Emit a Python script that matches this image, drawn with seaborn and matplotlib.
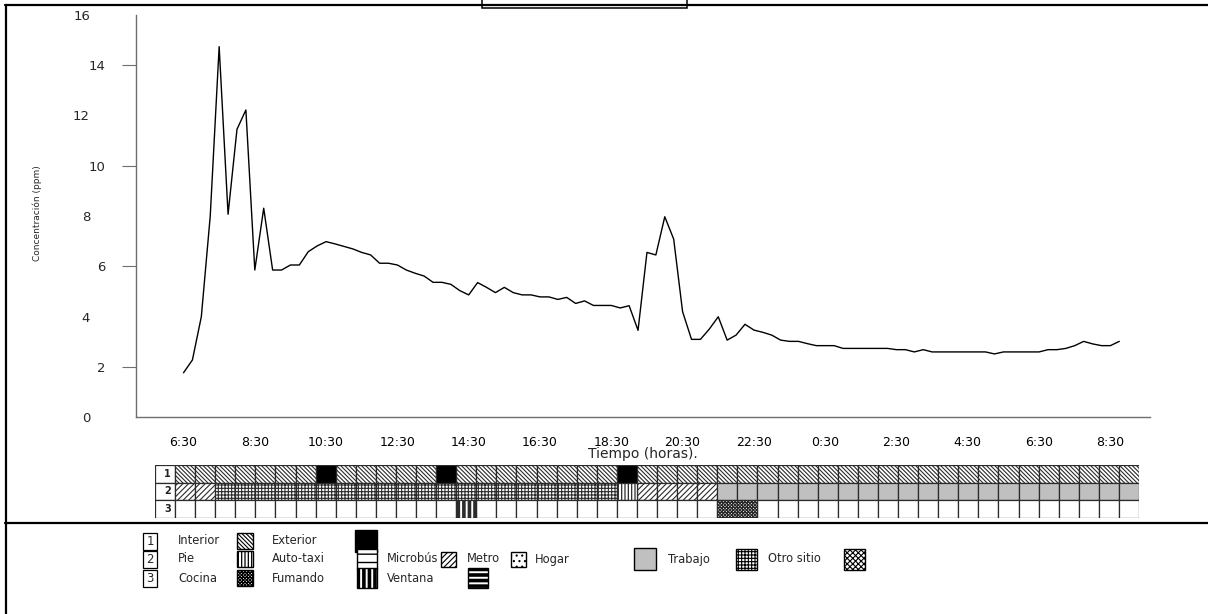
import matplotlib
matplotlib.use("Agg")
import matplotlib.pyplot as plt
from matplotlib.patches import Rectangle
from matplotlib.lines import Line2D
import pandas as pd
import seaborn as sns

# ---------------------------------------------------------------------------
# Data: CO concentration sampled every 15 minutes, starting at 6:30
# ---------------------------------------------------------------------------
START_HOUR = 6.5
STEP_HOURS = 0.25
CONC_PPM = [
    1.76, 2.27, 3.99, 8.00, 14.74, 8.07, 11.45, 12.22, 5.85, 8.31,
    5.85, 5.85, 6.05, 6.05, 6.58, 6.81, 6.98, 6.89, 6.79, 6.69,
    6.55, 6.45, 6.12, 6.12, 6.05, 5.85, 5.72, 5.61, 5.36, 5.36,
    5.28, 5.03, 4.86, 5.35, 5.16, 4.95, 5.16, 4.95, 4.86, 4.86,
    4.78, 4.78, 4.68, 4.76, 4.52, 4.62, 4.44, 4.44, 4.44, 4.34,
    4.43, 3.45, 6.55, 6.45, 7.97, 7.08, 4.19, 3.09, 3.09, 3.50,
    3.99, 3.06, 3.26, 3.69, 3.46, 3.37, 3.26, 3.06, 3.01, 3.01,
    2.92, 2.84, 2.84, 2.84, 2.73, 2.73, 2.73, 2.73, 2.73, 2.73,
    2.68, 2.68, 2.59, 2.68, 2.59, 2.59, 2.59, 2.59, 2.59, 2.59,
    2.59, 2.51, 2.59, 2.59, 2.59, 2.59, 2.59, 2.68, 2.68, 2.73,
    2.84, 3.01, 2.91, 2.84, 2.84, 3.01,
]

TICK_HOURS = [6.5, 8.5, 10.5, 12.5, 14.5, 16.5, 18.5, 20.5, 22.5,
              24.5, 26.5, 28.5, 30.5, 32.5]
TICK_LABELS = ["6:30", "8:30", "10:30", "12:30", "14:30", "16:30", "18:30",
               "20:30", "22:30", "0:30", "2:30", "4:30", "6:30", "8:30"]
Y_MAJOR = [0, 4, 8, 12, 16]
Y_MINOR = [2, 6, 10, 14]

X_LABEL = "Tiempo (horas)."
Y_LABEL = "Concentración (ppm)"

# Activity record: one cell per half hour, three rows
ROW_LABELS = ["1", "2", "3"]
ROW1_SEGMENTS = [("Interior", 7), ("Exterior", 1), ("Interior", 5),
                 ("Exterior", 1), ("Interior", 8), ("Exterior", 1),
                 ("Interior", 25)]
ROW2_SEGMENTS = [("Microbús", 2), ("Trabajo", 20), ("Pie", 1),
                 ("Microbús", 4), ("Hogar", 21)]
ROW3_SEGMENTS = [("", 14), ("Fumando", 1), ("", 12), ("Cocina", 2), ("", 19)]

# fill colour, hatch, hatch line width for every category
STYLES = {
    "":           ("white", None, 0.8),
    "Interior":   ("white", "\\" * 8, 0.8),
    "Exterior":   ("black", None, 0.8),
    "Pie":        ("white", "|" * 5, 0.9),
    "Auto-taxi":  ("white", "--", 1.0),
    "Microbús":   ("white", "/" * 6, 0.8),
    "Metro":      ("white", "...", 0.8),
    "Hogar":      ("#c0c0c0", None, 0.8),
    "Trabajo":    ("white", "+" * 5, 0.8),
    "Otro sitio": ("white", "x" * 6, 0.8),
    "Cocina":     ("white", "x" * 10, 0.9),
    "Fumando":    ("white", "|||", 2.6),
    "Ventana":    ("white", "---", 2.6),
}

# legend rows: number box, then (label, text x, swatch x0, swatch x1)
LEGEND_ROWS = [
    ("1", 541, [("Interior", 178, 237, 253), ("Exterior", 272, 355, 377)]),
    ("2", 559, [("Pie", 178, 237, 253), ("Auto-taxi", 272, 357, 377),
                ("Microbús", 387, 441, 456), ("Metro", 467, 511, 526),
                ("Hogar", 535, 634, 656), ("Trabajo", 668, 736, 757),
                ("Otro sitio", 768, 844, 865)]),
    ("3", 578, [("Cocina", 178, 237, 253), ("Fumando", 272, 357, 377),
                ("Ventana", 387, 468, 488)]),
]

# ---------------------------------------------------------------------------
W, H = 1208, 614
sns.set_theme(style="white")
plt.rcParams["font.family"] = ["DejaVu Sans"]
plt.rcParams["figure.dpi"] = 100

AXIS_GRAY = "#6e6e6e"
EDGE = "#2b2b2b"

fig = plt.figure(figsize=(W / 100, H / 100), dpi=100)
fig.patch.set_facecolor("white")

# --- main concentration line ----------------------------------------------
df = pd.DataFrame({
    "hora": [START_HOUR + STEP_HOURS * i for i in range(len(CONC_PPM))],
    "ppm": CONC_PPM,
})

ax = fig.add_axes([136 / W, 1 - 417 / H, 1014 / W, 402 / H])
ax.set_facecolor("white")
sns.lineplot(data=df, x="hora", y="ppm", ax=ax, color="black", linewidth=1.0)

px_per_hour = 35.65
ax.set_xlim(START_HOUR - (183.5 - 136) / px_per_hour,
            START_HOUR + (1150 - 183.5) / px_per_hour)
ax.set_ylim(0, 16)

for side in ("top", "right"):
    ax.spines[side].set_visible(False)
for side in ("left", "bottom"):
    ax.spines[side].set_color(AXIS_GRAY)
    ax.spines[side].set_linewidth(1.0)

ax.set_xticks(TICK_HOURS, TICK_LABELS)
ax.tick_params(axis="x", direction="out", length=9.4, width=0.8,
               color=AXIS_GRAY, pad=4.0, labelsize=9, labelcolor="black")

ax.set_yticks(Y_MAJOR, [str(v) for v in Y_MAJOR])
ax.set_yticks(Y_MINOR, [str(v) for v in Y_MINOR], minor=True)
ax.tick_params(axis="y", which="major", direction="out", length=21.6,
               width=0.8, color=AXIS_GRAY, pad=11.5, labelsize=9.5)
ax.tick_params(axis="y", which="minor", direction="out", length=10.1,
               width=0.8, color=AXIS_GRAY, pad=12.0, labelsize=9.5,
               left=True, labelleft=True)

ax.set_xlabel(X_LABEL, fontsize=10)
ax.xaxis.set_label_coords(0.5, -(447 - 417) / 402)
ax.set_ylabel(Y_LABEL, fontsize=6.5)
ax.yaxis.set_label_coords((42 - 136) / 1014, (417 - 213) / 402)
ax.grid(False)


def style_bars(bars, hatch_lw):
    for p in bars:
        if hasattr(p, "set_hatch_linewidth"):
            p.set_hatch_linewidth(hatch_lw)


def expand(segments):
    cells = []
    for cat, n in segments:
        cells.extend([cat] * n)
    return cells


# --- activity strip ---------------------------------------------------------
strip = fig.add_axes([155 / W, 1 - 518 / H, 984 / W, 53 / H])
strip.set_xlim(0, 49)
strip.set_ylim(3, 0)
strip.axis("off")

strip.bar([0, 0, 0], 1, width=1, bottom=[0, 1, 2], align="edge",
          color="white", edgecolor=EDGE, linewidth=0.9)
for r, lab in enumerate(ROW_LABELS):
    strip.text(0.78, r + 0.5, lab, ha="right", va="center", fontsize=7,
               fontweight="bold", color="#222222")

for r, segments in enumerate([ROW1_SEGMENTS, ROW2_SEGMENTS, ROW3_SEGMENTS]):
    cells = expand(segments)
    for cat in dict.fromkeys(cells):
        face, hatch, hlw = STYLES[cat]
        lefts = [k + 1 for k, c in enumerate(cells) if c == cat]
        with plt.rc_context({"hatch.linewidth": hlw}):
            bars = strip.bar(lefts, 1, width=1, bottom=r, align="edge",
                             color=face, edgecolor=EDGE, hatch=hatch,
                             linewidth=0.9)
        style_bars(bars, hlw)

# --- frame, caption box and legend (pixel coordinates) ----------------------
over = fig.add_axes([0, 0, 1, 1], facecolor="none")
over.set_xlim(0, W)
over.set_ylim(H, 0)
over.axis("off")

over.add_line(Line2D([5, W], [5, 5], color="black", linewidth=1.6))
over.add_line(Line2D([6, 6], [5, H], color="black", linewidth=1.6))
over.add_line(Line2D([5, W], [523, 523], color="black", linewidth=1.6))
over.add_patch(Rectangle((482, -6), 205, 14, facecolor="white",
                         edgecolor="black", linewidth=1.1))

for num, yc, entries in LEGEND_ROWS:
    over.add_patch(Rectangle((143, yc - 8.5), 14, 17, facecolor="white",
                             edgecolor="black", linewidth=0.9))
    over.text(150, yc + 0.5, num, ha="center", va="center", fontsize=8.5)
    for label, tx, sx0, sx1 in entries:
        over.text(tx, yc, label, ha="left", va="center", fontsize=8.3)
        face, hatch, hlw = STYLES[label]
        size = sx1 - sx0
        with plt.rc_context({"hatch.linewidth": hlw}):
            sw = Rectangle((sx0, yc - size / 2), size, size, facecolor=face,
                           edgecolor="black", hatch=hatch, linewidth=1.0)
        if hasattr(sw, "set_hatch_linewidth"):
            sw.set_hatch_linewidth(hlw)
        over.add_patch(sw)

fig.savefig("out.png", dpi=100, facecolor="white")
